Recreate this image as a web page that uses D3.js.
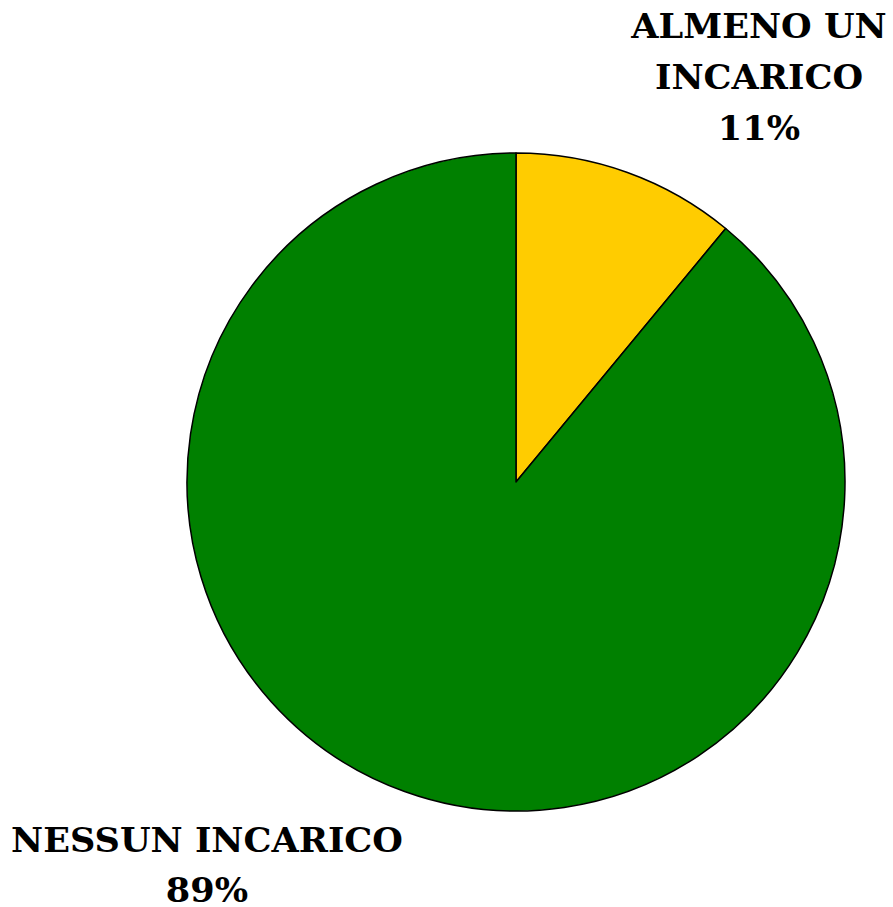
<!DOCTYPE html>
<html><head><meta charset="utf-8">
<script src="https://cdn.jsdelivr.net/npm/d3@7"></script>
<style>body{margin:0;background:#fff}svg{display:block}</style>
</head><body>
<script>
const categories = ["ALMENO UN INCARICO", "NESSUN INCARICO"];
const values = [11, 89];
const colors = ["#FFCC00", "#008000"];
const labelLines = [["ALMENO UN", "INCARICO", "11%"], ["NESSUN INCARICO", "89%"]];

const W = 893, H = 907;
const cx = 516, cy = 482, r = 329;
const svg = d3.select("body").append("svg").attr("width", W).attr("height", H);
const pie = d3.pie().sort(null).value(d => d)(values);
const arc = d3.arc().innerRadius(0).outerRadius(r);
const g = svg.append("g").attr("transform", `translate(${cx},${cy})`);
g.selectAll("path").data(pie).join("path")
  .attr("d", arc).attr("fill", (d, i) => colors[i])
  .attr("stroke", "#000").attr("stroke-width", 1.5).attr("stroke-linejoin", "round");

const labelPos = [{x: 759, y: 38}, {x: 207, y: 852}];
const lhs = [51, 50];
const sx = 1.065;
labelLines.forEach((lines, i) => {
  const t = svg.append("text")
    .attr("transform", `translate(${labelPos[i].x},${labelPos[i].y}) scale(${sx},1)`)
    .attr("font-family", "'DejaVu Serif', serif").attr("font-weight", "bold")
    .attr("font-size", 33).attr("text-anchor", "middle").attr("fill", "#000");
  lines.forEach((s, j) => t.append("tspan").attr("x", 0).attr("y", j * lhs[i]).text(s));
});
</script>
</body></html>
